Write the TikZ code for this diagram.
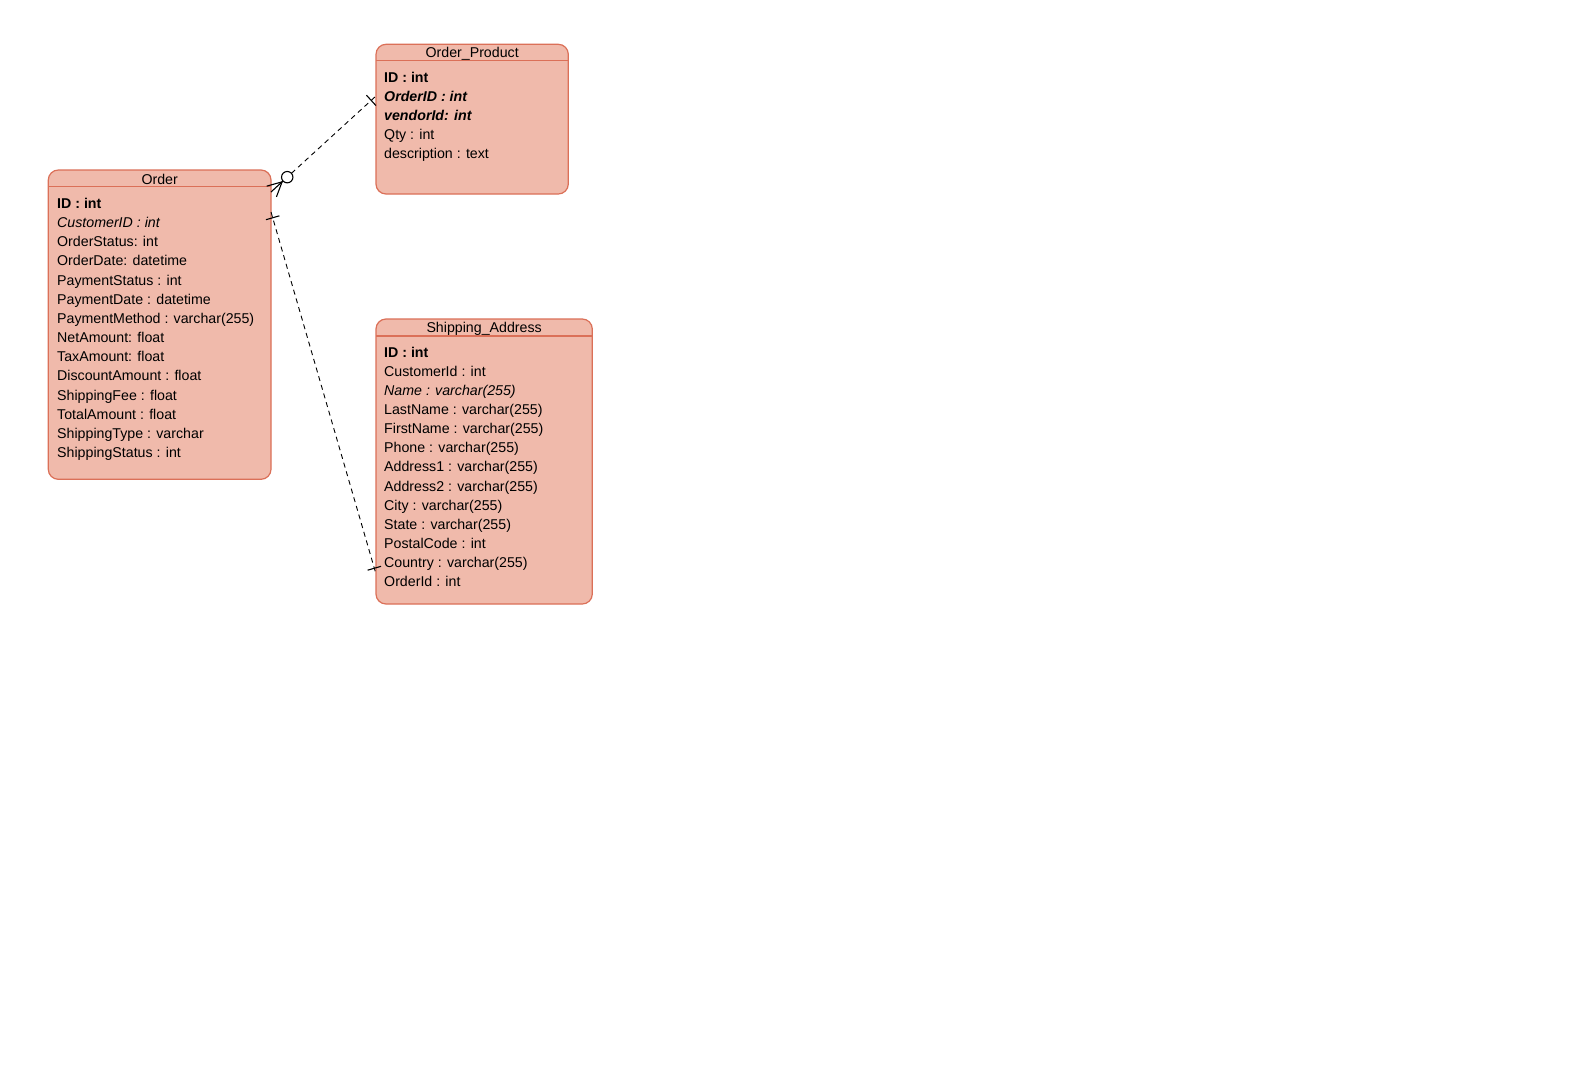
\documentclass[tikz,border=0pt]{standalone}
\usepackage{fontspec}
\setmainfont{Liberation Sans}
\usetikzlibrary{calc}

\definecolor{entfill}{RGB}{240,186,171}
\definecolor{entline}{RGB}{219,112,88}

\begin{document}
\begin{tikzpicture}[x=1pt,y=-1pt,
  entity/.style={draw=entline,fill=entfill,line width=1.2pt,rounded corners=10pt,
    inner sep=0pt,outer sep=0pt},
  sepline/.style={draw=entline,line width=1.1pt},
  title/.style={inner sep=0pt,anchor=base,font=\fontsize{14.2}{17}\selectfont},
  row/.style={inner sep=0pt,anchor=base west,font=\fontsize{14.2}{17}\selectfont},
  rel/.style={line width=0.9pt,dash pattern=on 5pt off 4pt},
  endsym/.style={line width=1.1pt}
]
\fill[white] (0,0) rectangle (1586,1090);
\useasboundingbox (0,0) rectangle (1586,1090);

% ---------- Order ----------
\node[entity,minimum width=222.7pt,minimum height=309.3pt] (order) at (159.65,324.65) {};
\draw[sepline] (order.west |- 0,186.5) -- (order.east |- 0,186.5);
\node[title] (orderT) at (159.65,184) {Order};
\foreach [count=\i] \t in {{\textbf{ID : int}},{\textit{CustomerID : int}},OrderStatus: int,
  OrderDate: datetime,PaymentStatus : int,PaymentDate : datetime,
  PaymentMethod : varchar(255),NetAmount: float,TaxAmount: float,
  DiscountAmount : float,ShippingFee : float,TotalAmount : float,
  ShippingType : varchar,ShippingStatus : int}
  \node[row] (o\i) at (57,{208.3+(\i-1)*19.18}) {\t};

% ---------- Order_Product ----------
\node[entity,minimum width=192.3pt,minimum height=149.7pt] (oprod) at (472.15,119.15) {};
\draw[sepline] (oprod.west |- 0,60.7) -- (oprod.east |- 0,60.7);
\node[title] (oprodT) at (472.15,57.7) {Order\_Product};
\foreach [count=\i] \t in {{\textbf{ID : int}},{\textbf{\textit{OrderID : int}}},
  {\textbf{\textit{vendorId: int}}},Qty : int,description : text}
  \node[row] (p\i) at (384,{82.3+(\i-1)*19.17}) {\t};

% ---------- Shipping_Address ----------
\node[entity,minimum width=216.3pt,minimum height=285pt] (ship) at (484.15,461.5) {};
\draw[sepline] (ship.west |- 0,336) -- (ship.east |- 0,336);
\node[title] (shipT) at (484.15,332.7) {Shipping\_Address};
\foreach [count=\i] \t in {{\textbf{ID : int}},CustomerId : int,{\textit{Name : varchar(255)}},
  LastName : varchar(255),FirstName : varchar(255),Phone : varchar(255),
  Address1 : varchar(255),Address2 : varchar(255),City : varchar(255),
  State : varchar(255),PostalCode : int,Country : varchar(255),OrderId : int}
  \node[row] (s\i) at (384,{357.3+(\i-1)*19.1}) {\t};

% ---------- Order (zero or many) -- (one) Order_Product ----------
\coordinate (r1a) at (order.east |- 0,192);
\coordinate (r1b) at (oprod.west |- 0,96);
\coordinate (r1apex) at ($(r1a)!15pt!(r1b)$);
\coordinate (r1circ) at ($(r1a)!22pt!(r1b)$);
\coordinate (r1tick) at ($(r1b)!6.5pt!(r1a)$);
\draw[endsym] (r1apex) -- ($(r1apex)!16pt!27:(r1a)$);
\draw[endsym] (r1apex) -- ($(r1apex)!16pt!-27:(r1a)$);
\draw[endsym] (r1a) -- ($(r1a)!16.3pt!(r1b)$);
\draw[endsym] (r1circ) circle (5.7pt);
\draw[rel] ($(r1a)!27.7pt!(r1b)$) -- (r1b);
\draw[endsym] ($(r1tick)!7pt!90:(r1b)$) -- ($(r1tick)!7pt!-90:(r1b)$);

% ---------- Order (one) -- (one) Shipping_Address ----------
\coordinate (r2a) at (order.east |- 0,212);
\coordinate (r2b) at (ship.west |- 0,574);
\draw[rel] (r2a) -- (r2b);
\coordinate (r2ta) at ($(r2a)!6pt!(r2b)$);
\coordinate (r2tb) at ($(r2b)!6pt!(r2a)$);
\draw[endsym] ($(r2ta)!7pt!90:(r2b)$) -- ($(r2ta)!7pt!-90:(r2b)$);
\draw[endsym] ($(r2tb)!7pt!90:(r2a)$) -- ($(r2tb)!7pt!-90:(r2a)$);
\end{tikzpicture}
\end{document}
